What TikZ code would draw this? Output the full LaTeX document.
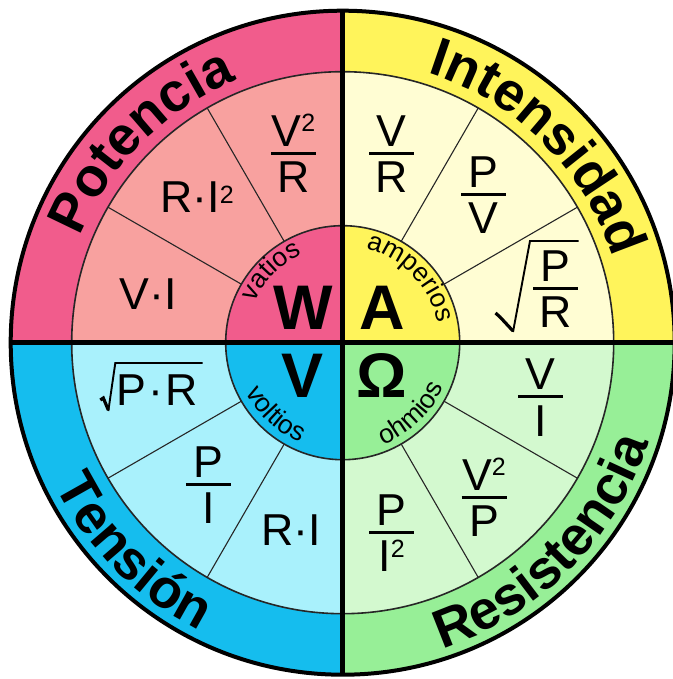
\documentclass[tikz,border=0pt]{standalone}
\usepackage{fontspec}
\setmainfont{Liberation Sans}
\usetikzlibrary{decorations.text,calc}
\definecolor{pinkD}{HTML}{F15C8C}
\definecolor{pinkL}{HTML}{F8A19F}
\definecolor{yelD}{HTML}{FFF45B}
\definecolor{yelL}{HTML}{FFFDD3}
\definecolor{bluD}{HTML}{15BDEE}
\definecolor{bluL}{HTML}{A9F1FC}
\definecolor{grnD}{HTML}{97EF97}
\definecolor{grnL}{HTML}{D3F9CF}
\tikzset{
  ftext/.style={anchor=base, inner sep=0pt, font=\fontsize{44.7}{50}\selectfont},
  fbar/.style={line width=3pt},
  unitletter/.style={anchor=base, inner sep=0pt, font=\fontsize{63}{70}\selectfont\bfseries},
  divider/.style={line width=1.1pt, draw=black!85},
  ringline/.style={line width=1.6pt, draw=black!85},
  crossline/.style={line width=4.5pt, draw=black},
  radthick/.style={line width=3.2pt, line join=miter},
  radthin/.style={line width=1.9pt, line join=miter},
}
\newcommand\suptwo[1]{\raisebox{#1}{\fontsize{25}{25}\selectfont 2}}
\newcommand\Frc[4]{%
  \coordinate (#1) at (#2);
  \node[ftext] (#1-n) at ([yshift=7pt]#1) {#3};
  \node[ftext] (#1-d) at ([yshift=-39pt]#1) {#4};
  \draw[fbar] ([xshift=-22.5pt]#1) -- ([xshift=22.5pt]#1);}
\newcommand\arctext[5]{%
  \path[decorate, decoration={text along path, text align=center, text={|#4|#5}}]
    (#2:#1) arc[start angle=#2, end angle=#3, radius=#1];}
\newcommand\outerfont{\fontsize{54.5}{60}\selectfont\bfseries}
\newcommand\innerfont{\fontsize{26.5}{28}\selectfont}
\begin{document}
\begin{tikzpicture}[x=1pt,y=1pt]
\useasboundingbox (-342.7,-336.3) rectangle (329.3,342.7);
\fill[white] (-342.7,-336.3) rectangle (329.3,342.7);
% outer ring
\fill[pinkD] (0,0) -- (90:332pt) arc[start angle=90,end angle=180,radius=332pt] -- cycle;
\fill[yelD] (0,0) -- (0:332pt) arc[start angle=0,end angle=90,radius=332pt] -- cycle;
\fill[bluD] (0,0) -- (180:332pt) arc[start angle=180,end angle=270,radius=332pt] -- cycle;
\fill[grnD] (0,0) -- (270:332pt) arc[start angle=270,end angle=360,radius=332pt] -- cycle;
% formula ring
\fill[pinkL] (0,0) -- (90:271pt) arc[start angle=90,end angle=180,radius=271pt] -- cycle;
\fill[yelL] (0,0) -- (0:271pt) arc[start angle=0,end angle=90,radius=271pt] -- cycle;
\fill[bluL] (0,0) -- (180:271pt) arc[start angle=180,end angle=270,radius=271pt] -- cycle;
\fill[grnL] (0,0) -- (270:271pt) arc[start angle=270,end angle=360,radius=271pt] -- cycle;
% inner disc
\fill[pinkD] (0,0) -- (90:117pt) arc[start angle=90,end angle=180,radius=117pt] -- cycle;
\fill[yelD] (0,0) -- (0:117pt) arc[start angle=0,end angle=90,radius=117pt] -- cycle;
\fill[bluD] (0,0) -- (180:117pt) arc[start angle=180,end angle=270,radius=117pt] -- cycle;
\fill[grnD] (0,0) -- (270:117pt) arc[start angle=270,end angle=360,radius=117pt] -- cycle;
% dividers and rings
\foreach \a in {30,60,120,150,210,240,300,330} \draw[divider] (\a:117pt) -- (\a:271pt);
\draw[ringline] (0,0) circle[radius=271pt];
\draw[ringline] (0,0) circle[radius=117pt];
\draw[crossline] (-332pt,0) -- (332pt,0);
\draw[crossline] (0,-332pt) -- (0,332pt);
\draw[line width=4pt] (0,0) circle[radius=332pt];
% outer labels
\arctext{283pt}{175}{95}{\outerfont}{Potencia}
\arctext{283pt}{85}{5}{\outerfont}{Intensidad}
\arctext{321.5pt}{185}{265}{\outerfont}{Tensión}
\arctext{321.5pt}{275}{355}{\outerfont}{Resistencia}
% inner labels
\arctext{97pt}{175}{95}{\innerfont}{vatios}
\arctext{97pt}{84}{4}{\innerfont}{amperios}
\arctext{108.5pt}{187}{267}{\innerfont}{voltios}
\arctext{110pt}{274}{354}{\innerfont}{ohmios}
% unit letters
\node[unitletter] (uW) at (-39.7,12.7) {W};
\node[unitletter] (uA) at (39.3,12.7) {A};
\node[unitletter] (uV) at (-39.7,-54.3) {V};
\node[unitletter] (uO) at (39.3,-54.3) {Ω};
% Potencia formulas
\Frc{vr2}{-49.2,188.7}{V\suptwo{15pt}}{R}
\node[ftext] (ri2) at (-145.7,129.7) {R·I\suptwo{9pt}};
\node[ftext] (vi1) at (-194.2,32.7) {V·I};
% Intensidad formulas
\Frc{vr}{48.8,188.7}{V}{R}
\Frc{pv}{140.8,147.7}{P}{V}
\Frc{ppr}{212.8,53.7}{P}{R}
\begin{scope}[shift={(ppr)}]
  \draw[radthick] (-60,-24) -- (-55.5,-28) -- (-42.5,-42);
  \draw[radthin] (-42.5,-43) -- (-25.5,48) -- (23,48);
\end{scope}
% Tension formulas
\node[ftext] (pr) at (-185.7,-62.3) {P\kern2pt·\kern2pt R};
\draw[radthick] ($(pr.base west)+(-16,5)$) -- ($(pr.base west)+(-13,7)$) -- ($(pr.base west)+(-8,-5)$);
\draw[radthin] ($(pr.base west)+(-8,-6)$) -- ($(pr.base west)+(-1,42)$) -- ($(pr.base east)+(5,42)$);
\Frc{pi}{-134.2,-141.3}{P}{I}
\node[ftext] (ri) at (-51.2,-203) {R·I};
% Resistencia formulas
\Frc{vi}{197.8,-54.3}{V}{I}
\Frc{v2p}{141.3,-154.3}{V\suptwo{15pt}}{P}
\Frc{pi2}{48.8,-189.3}{P}{I\suptwo{14pt}}
\end{tikzpicture}
\end{document}
